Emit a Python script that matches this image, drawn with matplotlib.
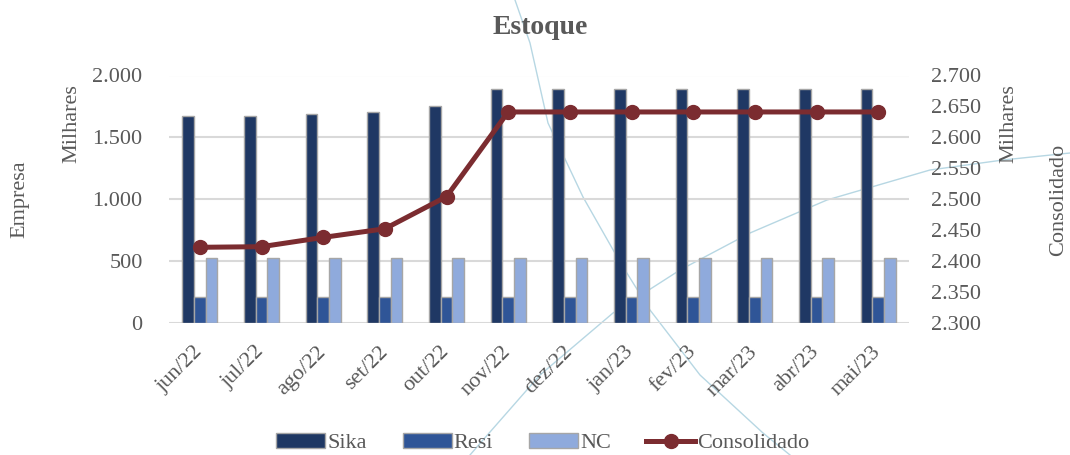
import numpy as np
import matplotlib
matplotlib.use("Agg")
import matplotlib.pyplot as plt
from matplotlib.lines import Line2D

# Dados (em milhares)
meses = ['jun/22', 'jul/22', 'ago/22', 'set/22', 'out/22', 'nov/22',
         'dez/22', 'jan/23', 'fev/23', 'mar/23', 'abr/23', 'mai/23']
sika = [1672, 1673, 1691, 1702, 1756, 1891, 1891, 1891, 1891, 1891, 1891, 1891]
resi = [205, 205, 205, 205, 205, 205, 205, 205, 205, 205, 205, 205]
nc = [527, 527, 527, 527, 527, 527, 527, 527, 527, 527, 527, 527]
consolidado = [2422, 2423, 2438, 2452, 2504, 2641, 2641, 2641, 2641, 2641, 2641, 2641]

# curvas decorativas do fundo (coordenadas da figura, em pixels)
deco_a_x = [515, 530, 548, 583, 620, 650, 700, 763, 790]
deco_a_y = [0, 43, 123, 197, 262, 310, 375, 433, 455]
deco_b_x = [470, 483, 540, 613, 680, 750, 827, 930, 1003, 1070]
deco_b_y = [455, 440, 375, 313, 270, 233, 200, 170, 160, 153]

cinza = '#595959'
plt.rcParams['font.family'] = ['Liberation Serif', 'DejaVu Serif']

W, H = 1070, 455
fig = plt.figure(figsize=(W / 100, H / 100), dpi=100, facecolor='white')

# fundo decorativo
for xs, ys in ((deco_a_x, deco_a_y), (deco_b_x, deco_b_y)):
    fig.add_artist(Line2D(np.array(xs) / W, 1 - np.array(ys) / H,
                          transform=fig.transFigure, color='#B7D7E3',
                          lw=1.0, zorder=0))

ax = fig.add_axes([169 / W, 1 - 322.7 / H, 740 / W, 247.2 / H])
ax.patch.set_alpha(0)
x = np.arange(len(meses))
larg = 0.19
ax.bar(x - larg, sika, larg, color='#1F3864', edgecolor='#A6A6A6', lw=1, label='Sika', zorder=3)
ax.bar(x, resi, larg, color='#2F5597', edgecolor='#A6A6A6', lw=1, label='Resi', zorder=3)
ax.bar(x + larg, nc, larg, color='#8FAADC', edgecolor='#A6A6A6', lw=1, label='NC', zorder=3)

ax.set_xlim(-0.5, len(meses) - 0.5)
ax.set_ylim(0, 2000)
ax.set_yticks([0, 500, 1000, 1500, 2000])
ax.set_yticklabels(['0', '500', '1.000', '1.500', '2.000'])
ax.grid(axis='y', color='#D9D9D9', lw=1.5, zorder=0)
ax.set_axisbelow(True)
for s in ax.spines.values():
    s.set_visible(False)
ax.tick_params(axis='y', length=0, pad=19, labelsize=16, labelcolor=cinza)
ax.tick_params(axis='x', length=0, pad=19, labelsize=16, labelcolor=cinza)
ax.set_xticks(x)
ax.set_xticklabels(meses, rotation=45, ha='right', va='center', rotation_mode='anchor')

ax2 = ax.twinx()
ax2.plot(x, consolidado, color='#7B2C30', lw=3.6, marker='o', markersize=10,
         label='Consolidado', zorder=5)
ax2.set_ylim(2300, 2700)
ax2.set_yticks(np.arange(2300, 2701, 50))
ax2.set_yticklabels([f'{v // 1000}.{v % 1000:03d}' for v in range(2300, 2701, 50)])
for s in ax2.spines.values():
    s.set_visible(False)
ax2.tick_params(axis='y', length=0, pad=16, labelsize=16, labelcolor=cinza)

fig.text(540 / W, 1 - 27 / H, 'Estoque', ha='center', va='center',
         fontsize=20, fontweight='bold', color=cinza)
fig.text(72 / W, 1 - 84 / H, 'Milhares', rotation=90, ha='center', va='top',
         fontsize=16, color=cinza)
fig.text(20 / W, 1 - 199 / H, 'Empresa', rotation=90, ha='center', va='center',
         fontsize=16, color=cinza)
fig.text(1009 / W, 1 - 84 / H, 'Milhares', rotation=90, ha='center', va='top',
         fontsize=16, color=cinza)
fig.text(1059 / W, 1 - 200 / H, 'Consolidado', rotation=90, ha='center', va='center',
         fontsize=16, color=cinza)

h1, l1 = ax.get_legend_handles_labels()
h2, l2 = ax2.get_legend_handles_labels()
leg = fig.legend(h1 + h2, l1 + l2, loc='center', bbox_to_anchor=(543 / W, 1 - 443 / H),
                 ncol=4, frameon=False, fontsize=16, handlelength=2.2,
                 columnspacing=1.6, handletextpad=0.1, labelcolor=cinza)

fig.savefig('out.png', dpi=100, facecolor='white')
